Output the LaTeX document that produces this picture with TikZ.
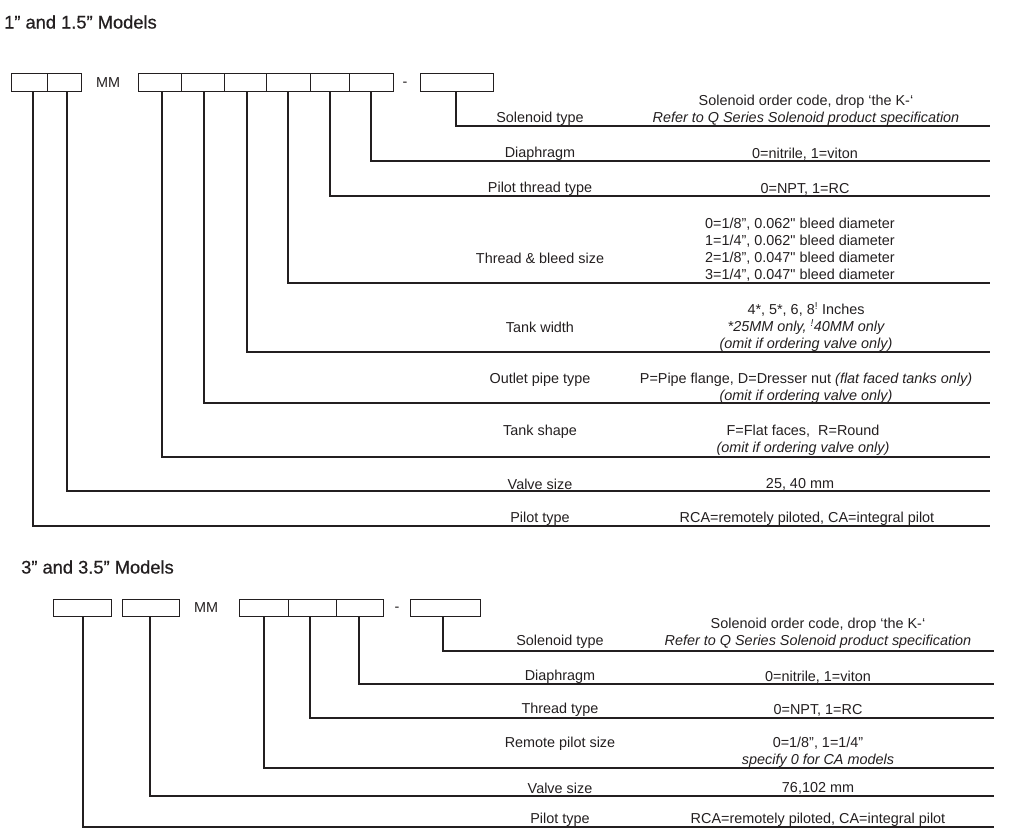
\documentclass[tikz,border=0pt]{standalone}
\usepackage{fontspec}
\setmainfont{Liberation Sans}
\newfontfamily\titlefont{Liberation Sans}[FakeBold=0.6]
\definecolor{ink}{HTML}{231F20}
\begin{document}
\begin{tikzpicture}[x=1pt,y=-1pt,
  every node/.style={text=ink},
  box/.style={draw=ink, line width=1pt, minimum height=18pt, inner sep=0pt, anchor=north west},
  boxb/.style={box, minimum height=17pt},
  conn/.style={draw=ink, line width=1.2pt},
  lbl/.style={font=\fontsize{14.4}{17}\selectfont, align=center, inner sep=0pt},
  ttl/.style={font=\titlefont\fontsize{18.3}{22}\selectfont, anchor=west, inner sep=0pt}]
\useasboundingbox (0,0) rectangle (1020,836);

% ---------- top section ----------
\node[ttl] (t1) at (4,22) {1” and 1.5” Models};
\node[box, minimum width=36pt] (a1) at (11,73) {};
\node[box, minimum width=34pt] (a2) at (47,73) {};
\node[lbl] (mm1) at (108,82.5) {MM};
\node[box, minimum width=43pt] (b1) at (138,73) {};
\node[box, minimum width=43pt] (b2) at (181,73) {};
\node[box, minimum width=42pt] (b3) at (224,73) {};
\node[box, minimum width=44pt] (b4) at (266,73) {};
\node[box, minimum width=39pt] (b5) at (310,73) {};
\node[box, minimum width=44pt] (b6) at (349,73) {};
\node[lbl] (dash1) at (405,84) {-};
\node[box, minimum width=73pt] (c1) at (420,73) {};

\coordinate (eSol) at (990,126);
\coordinate (eDia) at (990,161);
\coordinate (ePth) at (990,196);
\coordinate (eThr) at (990,283);
\coordinate (eTw) at (990,352);
\coordinate (eOut) at (990,403);
\coordinate (eTs) at (990,457);
\coordinate (eVs) at (990,491);
\coordinate (ePil) at (990,526);

\draw[conn] (456,0 |- c1.south) |- (eSol);
\draw[conn] (371,0 |- b6.south) |- (eDia);
\draw[conn] (330,0 |- b5.south) |- (ePth);
\draw[conn] (288,0 |- b4.south) |- (eThr);
\draw[conn] (247,0 |- b3.south) |- (eTw);
\draw[conn] (204,0 |- b2.south) |- (eOut);
\draw[conn] (162,0 |- b1.south) |- (eTs);
\draw[conn] (67,0 |- a2.south) |- (eVs);
\draw[conn] (33,0 |- a1.south) |- (ePil);

\node[lbl] (l1) at (540,119) {Solenoid type};
\node[lbl] (d1) at (806,110.5) {Solenoid order code, drop ‘the K-‘\\ \itshape Refer to Q Series Solenoid product specification};
\node[lbl] (l2) at (540,154) {Diaphragm};
\node[lbl] (d2) at (805,154) {0=nitrile, 1=viton};
\node[lbl] (l3) at (540,189) {Pilot thread type};
\node[lbl] (d3) at (805,189) {0=NPT, 1=RC};
\node[lbl] (l4) at (540,258) {Thread \& bleed size};
\node[lbl] (d4) at (800,249.5) {0=1/8”, 0.062\textquotedbl{} bleed diameter\\1=1/4”, 0.062\textquotedbl{} bleed diameter\\2=1/8”, 0.047\textquotedbl{} bleed diameter\\3=1/4”, 0.047\textquotedbl{} bleed diameter};
\node[lbl] (l5) at (540,327) {Tank width};
\node[lbl] (d5) at (806,327) {4*, 5*, 6, 8\textsuperscript{!} Inches\\ \itshape *25MM only, \textsuperscript{!}40MM only\\ \itshape (omit if ordering valve only)};
\node[lbl] (l6) at (540,380) {Outlet pipe type};
\node[lbl] (d6) at (806,388.5) {P=Pipe flange, D=Dresser nut \textit{(flat faced tanks only)}\\ \itshape (omit if ordering valve only)};
\node[lbl] (l7) at (540,432) {Tank shape};
\node[lbl] (d7) at (803,440.5) {F=Flat faces,\ \ R=Round\\ \itshape (omit if ordering valve only)};
\node[lbl] (l8) at (540,484) {Valve size};
\node[lbl] (d8) at (800,484) {25, 40 mm};
\node[lbl] (l9) at (540,519) {Pilot type};
\node[lbl] (d9) at (807,519) {RCA=remotely piloted, CA=integral pilot};

% ---------- bottom section ----------
\node[ttl] (t2) at (21,567) {3” and 3.5” Models};
\node[boxb, minimum width=58pt] (p1) at (53,599) {};
\node[boxb, minimum width=57pt] (p2) at (122,599) {};
\node[lbl] (mm2) at (206,607.5) {MM};
\node[boxb, minimum width=49pt] (q1) at (239,599) {};
\node[boxb, minimum width=48pt] (q2) at (288,599) {};
\node[boxb, minimum width=47pt] (q3) at (336,599) {};
\node[lbl] (dash2) at (397,609) {-};
\node[boxb, minimum width=70pt] (r1) at (410,599) {};

\coordinate (fSol) at (994,651);
\coordinate (fDia) at (994,684);
\coordinate (fThr) at (994,718);
\coordinate (fRem) at (994,768);
\coordinate (fVs) at (994,796);
\coordinate (fPil) at (994,827);

\draw[conn] (443,0 |- r1.south) |- (fSol);
\draw[conn] (359,0 |- q3.south) |- (fDia);
\draw[conn] (310,0 |- q2.south) |- (fThr);
\draw[conn] (264,0 |- q1.south) |- (fRem);
\draw[conn] (150,0 |- p2.south) |- (fVs);
\draw[conn] (83,0 |- p1.south) |- (fPil);

\node[lbl] (m1) at (560,642) {Solenoid type};
\node[lbl] (n1) at (818,633.5) {Solenoid order code, drop ‘the K-‘\\ \itshape Refer to Q Series Solenoid product specification};
\node[lbl] (m2) at (560,677) {Diaphragm};
\node[lbl] (n2) at (818,677) {0=nitrile, 1=viton};
\node[lbl] (m3) at (560,710) {Thread type};
\node[lbl] (n3) at (818,710) {0=NPT, 1=RC};
\node[lbl] (m4) at (560,744) {Remote pilot size};
\node[lbl] (n4) at (818,752.5) {0=1/8”, 1=1/4”\\ \itshape specify 0 for CA models};
\node[lbl] (m5) at (560,788) {Valve size};
\node[lbl] (n5) at (818,788) {76,102 mm};
\node[lbl] (m6) at (560,820) {Pilot type};
\node[lbl] (n6) at (818,820) {RCA=remotely piloted, CA=integral pilot};
\end{tikzpicture}
\end{document}
